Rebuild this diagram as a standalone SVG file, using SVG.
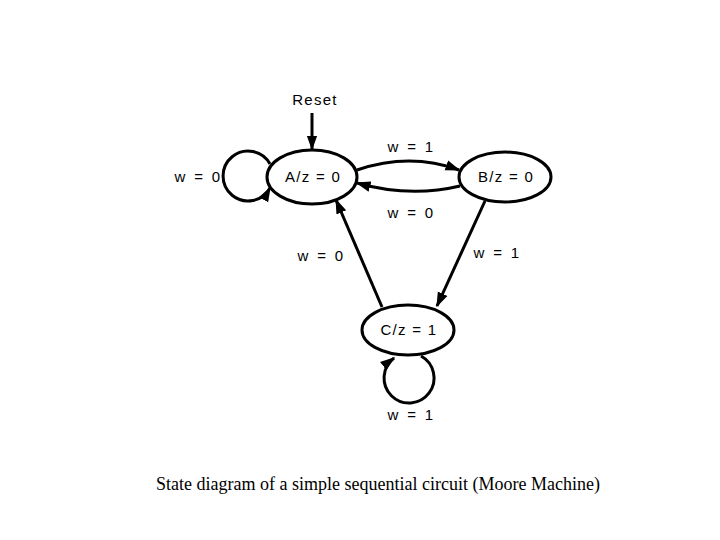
<svg xmlns="http://www.w3.org/2000/svg" width="720" height="540" viewBox="0 0 720 540">
<style>
.node{fill:#fff;stroke:#000;stroke-width:3}
.edge{fill:none;stroke:#000;stroke-width:3}
.lbl{font-family:"Liberation Sans",Arial,sans-serif;font-size:15px;letter-spacing:1.3px;fill:#000;text-anchor:middle}
.wl{word-spacing:2px}
.cap{font-family:"Liberation Serif","Times New Roman",serif;font-size:18px;fill:#000;text-anchor:middle}
</style>
<defs>
<marker id="ah" viewBox="0 0 10 10" refX="9" refY="5" markerWidth="5" markerHeight="5" markerUnits="strokeWidth" orient="auto">
<path d="M0,1.5 L10,5 L0,8.5 Z" fill="#000"/>
</marker>
</defs>
<rect width="720" height="540" fill="#fff"/>
<g id="connectors">
<line class="edge" x1="312" y1="113" x2="312" y2="149" marker-end="url(#ah)"/>
<path class="edge" d="M270,164 A25,25 0 1 0 270,188" marker-end="url(#ah)"/>
<path class="edge" d="M357,170 Q410,152 459,170" marker-end="url(#ah)"/>
<path class="edge" d="M460,186 Q410,198 357,183" marker-end="url(#ah)"/>
<line class="edge" x1="382" y1="307" x2="336" y2="200" marker-end="url(#ah)"/>
<line class="edge" x1="485" y1="201" x2="437" y2="306" marker-end="url(#ah)"/>
<path class="edge" d="M421,356 A25,25 0 1 1 394,358" marker-end="url(#ah)"/>
</g>
<g id="A"><ellipse class="node" cx="312" cy="177" rx="45" ry="27"/><text class="lbl" x="313" y="182">A/z = 0</text></g>
<g id="B"><ellipse class="node" cx="505" cy="177" rx="46" ry="25"/><text class="lbl" x="506" y="182">B/z = 0</text></g>
<g id="C"><ellipse class="node" cx="408" cy="330" rx="46" ry="25"/><text class="lbl" x="409" y="335">C/z = 1</text></g>
<g id="labels">
<text class="lbl" x="315" y="105">Reset</text>
<text class="lbl wl" x="411" y="152">w = 1</text>
<text class="lbl wl" x="411" y="218">w = 0</text>
<text class="lbl wl" x="198" y="182">w = 0</text>
<text class="lbl wl" x="321" y="261">w = 0</text>
<text class="lbl wl" x="497" y="258">w = 1</text>
<text class="lbl wl" x="411" y="420">w = 1</text>
<text class="cap" x="378" y="490">State diagram of a simple sequential circuit (Moore Machine)</text>
</g>
</svg>
